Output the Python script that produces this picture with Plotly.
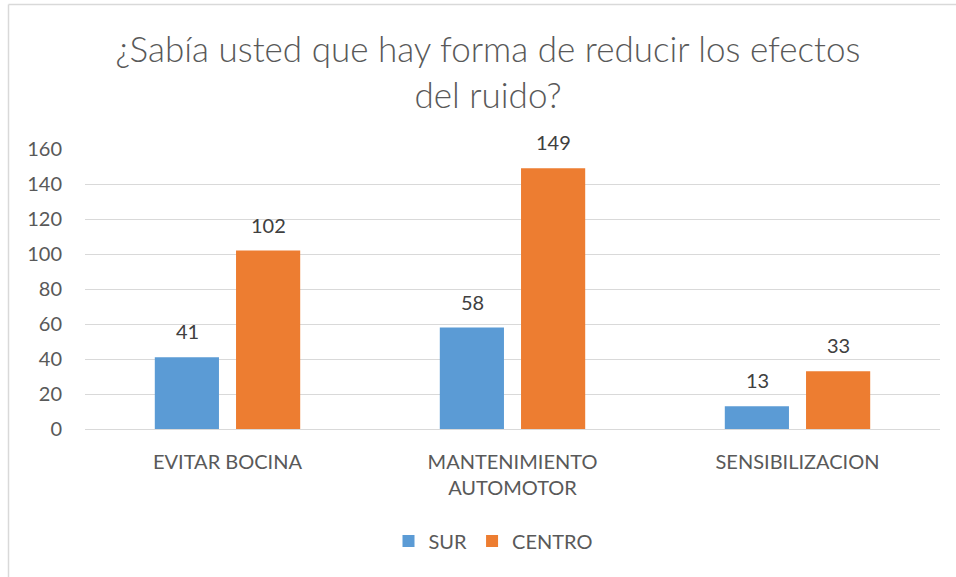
import plotly.graph_objects as go

categories = ["EVITAR BOCINA", "MANTENIMIENTO<br>AUTOMOTOR", "SENSIBILIZACION"]
sur = [41, 58, 13]
centro = [102, 149, 33]
series_names = ["SUR", "CENTRO"]
colors = ["#5B9BD5", "#ED7D31"]
y_ticks = [0, 20, 40, 60, 80, 100, 120, 140, 160]

FONT = "Lato, 'Open Sans', sans-serif"

fig = go.Figure()
for name, vals, col in zip(series_names, [sur, centro], colors):
    fig.add_trace(go.Bar(
        x=categories, y=vals, name=name, marker=dict(color=col, line=dict(width=0)),
    ))

# data labels
offsets = [-40.5, 40.5]
for vals, dx in zip([sur, centro], offsets):
    for c, v in zip(categories, vals):
        fig.add_annotation(x=c, y=v, text=str(v), showarrow=False,
                           xshift=dx, yshift=12, yanchor="bottom",
                           font=dict(size=20, color="#404040", family=FONT))

W, H = 956, 577
l, r, t, b = 85, 16, 149, 148
pw, ph = W - l - r, H - t - b

def px_to_paper_x(px):
    return (px - l) / pw

def px_to_paper_y(py):
    return (H - b - py) / ph

fig.update_layout(
    width=W, height=H,
    margin=dict(l=l, r=r, t=t, b=b, pad=0),
    paper_bgcolor="white", plot_bgcolor="white",
    barmode="group", bargap=0.43, bargroupgap=0.21,
    font=dict(family=FONT, color="#595959"),
    title=dict(
        text="¿Sabía usted que hay forma de reducir los efectos<br>del ruido?",
        x=488 / W, xref="container", xanchor="center",
        y=1 - 62 / H, yanchor="middle",
        font=dict(size=35, color="#595959", family=FONT, weight=300),
    ),
    xaxis=dict(
        showgrid=False, showline=False, zeroline=False, ticks="",
        tickfont=dict(size=20, color="#595959"), ticklabelstandoff=19,
    ),
    yaxis=dict(
        range=[0, 160], tickvals=y_ticks, showgrid=True, gridcolor="#D9D9D9",
        gridwidth=1, zeroline=True, zerolinecolor="#D9D9D9", zerolinewidth=1,
        showline=False, ticks="", ticklen=0,
        tickfont=dict(size=20, color="#595959"), ticklabelstandoff=22,
    ),
    legend=dict(
        orientation="h", x=px_to_paper_x(493), xanchor="center",
        y=px_to_paper_y(541), yanchor="middle",
        font=dict(size=20, color="#595959"),
        itemwidth=30, traceorder="normal",
    ),
    showlegend=True,
)

# chart border (left and top visible)
fig.add_shape(type="line", xref="paper", yref="paper",
              x0=px_to_paper_x(8.5), x1=px_to_paper_x(8.5),
              y0=px_to_paper_y(4.5), y1=px_to_paper_y(580),
              line=dict(color="#D9D9D9", width=1.5))
fig.add_shape(type="line", xref="paper", yref="paper",
              x0=px_to_paper_x(8.5), x1=px_to_paper_x(960),
              y0=px_to_paper_y(4.5), y1=px_to_paper_y(4.5),
              line=dict(color="#D9D9D9", width=1.5))

fig.write_html("out.html", config={"displayModeBar": False},
               post_script="document.body.style.margin='0';document.body.style.overflow='hidden';")
